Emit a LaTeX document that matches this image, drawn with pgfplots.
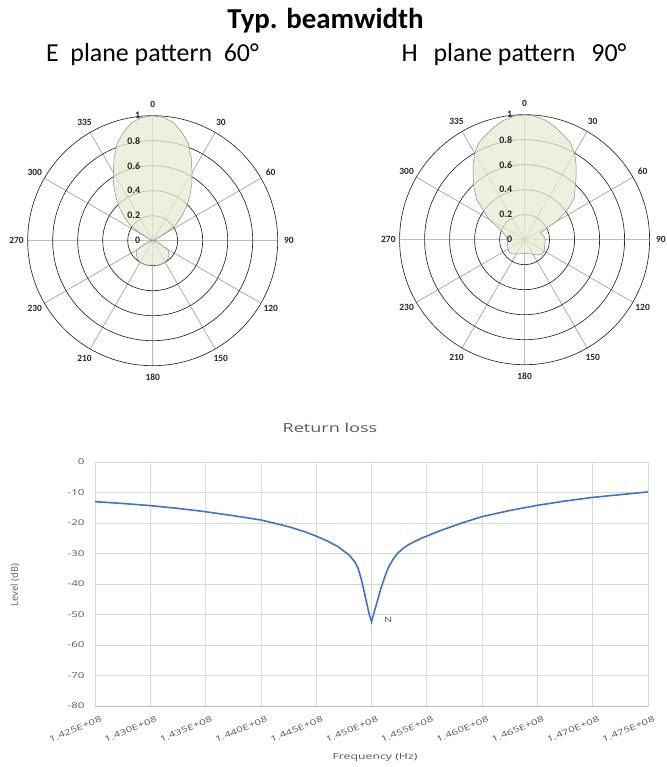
\documentclass[border=0pt]{standalone}
\usepackage{pgfplots}
\pgfplotsset{compat=1.18}
\usepgfplotslibrary{polar}
\usepackage{fontspec}
\setmainfont{Carlito}
\newfontfamily\wide[FakeStretch=1.45]{Open Sans}
\newfontfamily\opensans{Open Sans}

\definecolor{lobe}{RGB}{228,236,211}
\definecolor{rlblue}{RGB}{68,114,196}
\definecolor{txtgray}{RGB}{89,89,89}
\definecolor{gridgray}{RGB}{217,217,217}

\pgfplotsset{
  beam/.style={
    scale only axis, width=250bp, height=250bp, anchor=center,
    ymin=0, ymax=1, ytick={0.2,0.4,0.6,0.8,1},
    xtick={0,30,...,330},
    xticklabels={}, yticklabels={},
    ticklabel style={inner sep=0pt, outer sep=0pt},
    major tick length=0,
    xmajorgrids, ymajorgrids,
    x grid style={black!40, line width=0.6bp},
    y grid style={black!85, line width=0.65bp},
    axis line style={draw=none},
    clip=false,
  },
  lobe/.style={fill=lobe, fill opacity=0.75, draw=black!45, line width=0.5bp,
    x filter/.expression={90-x}},
}

% angle labels (display angle / text) and radial labels
\newcommand\beamlabels{%
  \node[lbl] at (axis cs:90,1.09) {0};
  \node[lbl] at (axis cs:60,1.09) {30};
  \node[lbl] at (axis cs:30,1.09) {60};
  \node[lbl] at (axis cs:0,1.09) {90};
  \node[lbl] at (axis cs:-30,1.09) {120};
  \node[lbl] at (axis cs:-60,1.09) {150};
  \node[lbl] at (axis cs:-90,1.09) {180};
  \node[lbl] at (axis cs:-120,1.09) {210};
  \node[lbl] at (axis cs:-150,1.09) {230};
  \node[lbl] at (axis cs:180,1.09) {270};
  \node[lbl] at (axis cs:150,1.09) {300};
  \node[lbl] at (axis cs:120,1.09) {335};
  \node[rlbl] at (axis cs:90,0) {0};
  \node[rlbl] at (axis cs:90,0.2) {0.2};
  \node[rlbl] at (axis cs:90,0.4) {0.4};
  \node[rlbl] at (axis cs:90,0.6) {0.6};
  \node[rlbl] at (axis cs:90,0.8) {0.8};
  \node[rlbl] at (axis cs:90,1) {1};
}

\begin{document}
\begin{tikzpicture}[
  lbl/.style={font=\bfseries\fontsize{9.5}{9.5}\selectfont, text=black!85},
  rlbl/.style={font=\bfseries\fontsize{10}{10}\selectfont, anchor=east, xshift=-9bp, text=black!85},
]
\path[use as bounding box] (0,0) rectangle (667bp,767bp);

\node[font=\bfseries\fontsize{29}{29}\selectfont, anchor=base] at (325.5bp,738bp) {Typ. beamwidth};
\node[font=\fontsize{26}{26}\selectfont, anchor=base] at (152.5bp,705bp) {E\ \ plane pattern\ \ 60°};
\node[font=\fontsize{26}{26}\selectfont, anchor=base] at (514bp,705bp) {H\ \ \,plane pattern\ \ \,90°};

% E plane
\begin{polaraxis}[beam, at={(152.7bp,526.3bp)}]
  \addplot[lobe] coordinates {
    (0,1.00) (5,0.99) (10,0.96) (15,0.90) (20,0.83) (25,0.73) (30,0.63)
    (35,0.545) (40,0.46) (45,0.38) (50,0.30) (55,0.23) (58,0.15) (60,0.08)
    (65,0.03) (70,0.01) (80,0.01) (90,0) (100,0.02) (110,0.06) (120,0.14)
    (130,0.17) (140,0.19) (150,0.20) (160,0.20) (170,0.20) (180,0.195)
    (190,0.20) (200,0.20) (210,0.20) (220,0.19) (230,0.17) (240,0.15)
    (250,0.06) (260,0.02) (270,0) (280,0.01) (290,0.01) (295,0.03)
    (300,0.08) (302,0.15) (305,0.23) (310,0.30) (315,0.38) (320,0.46)
    (325,0.545) (330,0.63) (335,0.73) (340,0.83) (345,0.90) (350,0.96)
    (355,0.99) (360,1.00)
  };
  \beamlabels
\end{polaraxis}

% H plane
\begin{polaraxis}[beam, at={(524.6bp,527.3bp)}]
  \addplot[lobe] coordinates {
    (0,1.00) (5,0.99) (10,0.97) (15,0.935) (20,0.895) (25,0.86) (30,0.80)
    (35,0.72) (40,0.64) (45,0.57) (50,0.52) (55,0.42) (60,0.30) (63,0.20)
    (66,0.135) (75,0.15) (85,0.165) (90,0.165) (100,0.165) (110,0.17)
    (120,0.18) (130,0.18) (140,0.16) (150,0.135) (160,0.12) (170,0.112)
    (180,0.11) (190,0.112) (200,0.12) (210,0.13) (220,0.15) (230,0.16)
    (240,0.155) (250,0.145) (260,0.14) (270,0.14) (280,0.15) (285,0.17)
    (290,0.19) (295,0.24) (300,0.33) (305,0.40) (310,0.50) (315,0.57)
    (320,0.64) (325,0.72) (330,0.80) (335,0.86) (340,0.895) (345,0.935)
    (350,0.97) (355,0.99) (360,1.00)
  };
  \beamlabels
\end{polaraxis}

% Return loss
\node[font=\wide\fontsize{12.5}{12.5}\selectfont, text=txtgray] at (330bp,339bp) {Return loss};
\node[font=\opensans\fontsize{9.5}{9.5}\selectfont, text=txtgray, rotate=90] at (15bp,182bp) {Level (dB)};
\node[font=\wide\fontsize{8.5}{8.5}\selectfont, text=txtgray] at (375bp,10bp) {Frequency (Hz)};

\begin{axis}[
  at={(95bp,61bp)}, anchor=south west,
  scale only axis, width=553bp, height=244bp,
  xmin=1.425e8, xmax=1.475e8, ymin=-80, ymax=0,
  xtick={1.425e8,1.430e8,1.435e8,1.440e8,1.445e8,1.450e8,1.455e8,1.460e8,1.465e8,1.470e8,1.475e8},
  xticklabels={1.425E+08,1.430E+08,1.435E+08,1.440E+08,1.445E+08,1.450E+08,1.455E+08,1.460E+08,1.465E+08,1.470E+08,1.475E+08},
  scaled x ticks=false,
  ytick={-80,-70,-60,-50,-40,-30,-20,-10,0},
  yticklabels={-80,-70,-60,-50,-40,-30,-20,-10,0},
  major tick length=0,
  xmajorgrids, ymajorgrids,
  grid style={gridgray, line width=0.75bp},
  axis line style={gridgray, line width=0.75bp},
  tick label style={font=\wide\fontsize{8}{8}\selectfont, text=txtgray},
  xticklabel style={font=\wide\fontsize{8}{8}\selectfont, rotate=22.5, anchor=east,
    inner sep=0pt, xshift=1bp, yshift=-14bp},
  yticklabel style={xshift=-7bp},
  clip=false,
]
  \addplot[rlblue, line width=1.6bp] coordinates {
    (1.4250e8,-13.0) (1.4275e8,-13.6) (1.4300e8,-14.3) (1.4325e8,-15.2)
    (1.4350e8,-16.3) (1.4375e8,-17.6) (1.4400e8,-19.0) (1.4425e8,-21.2)
    (1.4440e8,-22.9) (1.4450e8,-24.3) (1.4460e8,-25.9) (1.4470e8,-27.8)
    (1.4480e8,-30.6) (1.4485e8,-32.8) (1.4488e8,-35.0) (1.4491e8,-38.7)
    (1.4495e8,-45.2) (1.4498e8,-50.0) (1.4500e8,-52.4) (1.4503e8,-48.5)
    (1.45056e8,-45.2) (1.4508e8,-42.0) (1.4511e8,-38.7) (1.4515e8,-34.8)
    (1.4520e8,-31.6) (1.4524e8,-29.8) (1.4528e8,-28.5) (1.4533e8,-27.2)
    (1.4540e8,-25.9) (1.4545e8,-25.0) (1.4550e8,-24.3)
    (1.4560e8,-22.8) (1.4580e8,-20.2) (1.4600e8,-17.9) (1.4625e8,-15.9)
    (1.4650e8,-14.2) (1.4675e8,-12.8) (1.4700e8,-11.6) (1.4725e8,-10.7)
    (1.4750e8,-9.8)
  };
  \draw[black!25, line width=0.75bp] (rel axis cs:0,0) -- (rel axis cs:1,0);
  \node[font=\wide\fontsize{7.5}{7.5}\selectfont, text=txtgray] at (axis cs:1.4515e8,-51.8) {N};
\end{axis}
\end{tikzpicture}
\end{document}
